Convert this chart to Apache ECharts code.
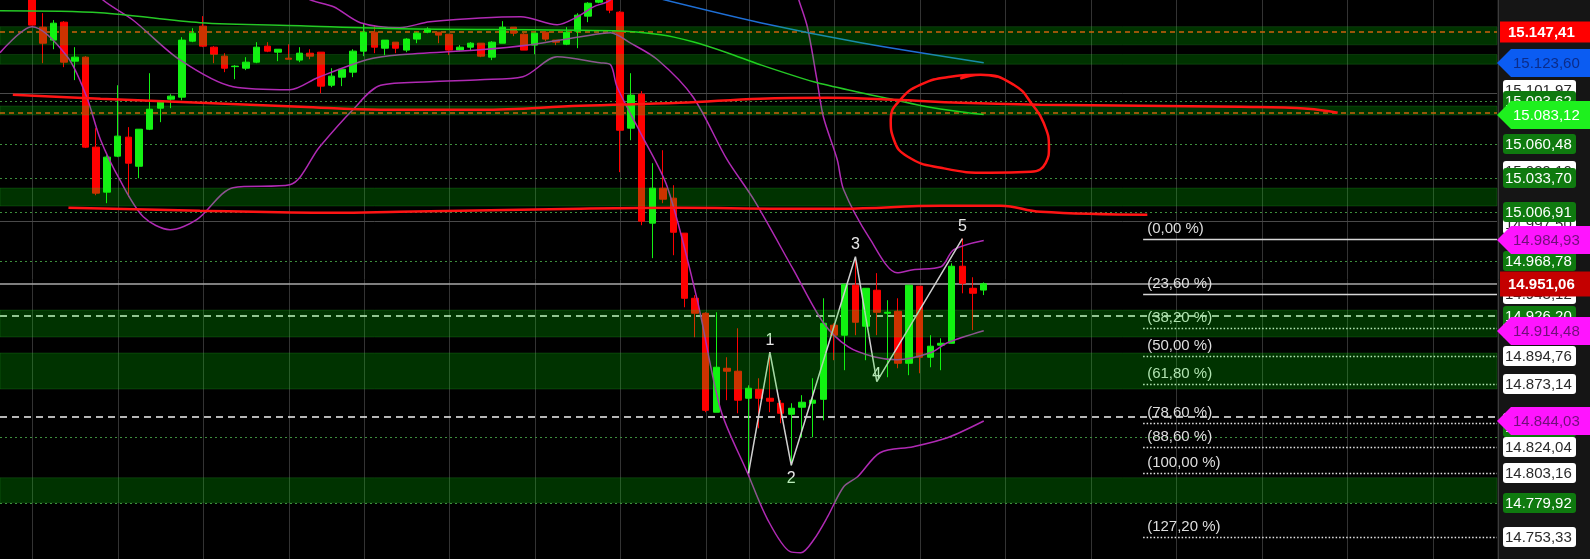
<!DOCTYPE html>
<html><head><meta charset="utf-8">
<script src="https://cdn.jsdelivr.net/npm/echarts@6/dist/echarts.min.js"></script>
<style>html,body{margin:0;padding:0;background:#000;}#c{width:1590px;height:559px;}</style>
</head><body><div id="c"></div>
<script>
// ---------------- DATA ----------------
const X_MAX = 140;               // number of time slots on the axis
const Y_MIN = 14736.4, Y_MAX = 15172.5;
const firstCandleSlot = 3;

const candleOpen = [15180.0,15151.3,15141.2,15155.2,15124.8,15127.9,15057.7,15022.6,15050.7,15065.5,
 15042.8,15071.7,15088.1,15095.1,15096.7,15140.4,15152.1,15135.7,15128.7,15120.5,
 15119.3,15124.0,15136.5,15131.8,15127.1,15125.6,15131.0,15131.8,15106.0,15112.3,
 15116.2,15132.6,15147.4,15134.9,15139.6,15133.4,15142.0,15147.4,15147.4,15145.8,
 15133.4,15135.7,15138.8,15127.9,15138.8,15151.3,15145.8,15137.3,15147.4,15141.2,
 15138.0,15148.2,15159.9,15170.8,15174.7,15163.0,15072.5,15099.0,14998.4,15025.7,
 15017.9,14990.6,14939.8,14928.1,14850.9,14885.2,14882.9,14861.8,14868.8,14861.8,
 14857.9,14849.3,14854.8,14857.9,14861.0,14918.8,14911.0,14950.0,14918.0,14946.1,
 14928.1,14929.7,14889.1,14949.2,14893.8,14903.2,14904.7,14964.8,14947.6,14946.2];
const candleClose = [15152.9,15138.8,15154.4,15124.0,15127.9,15057.7,15021.8,15049.9,15066.3,15045.2,
 15071.7,15087.3,15092.8,15097.5,15141.2,15146.6,15136.5,15130.2,15119.3,15120.9,
 15124.0,15135.7,15132.6,15134.1,15126.3,15131.0,15128.7,15105.3,15113.1,15118.5,
 15132.6,15147.4,15135.7,15141.2,15134.9,15142.0,15146.6,15149.8,15145.1,15133.4,
 15135.7,15138.8,15128.7,15139.6,15151.3,15146.6,15133.4,15146.6,15142.0,15139.6,
 15147.4,15160.7,15170.0,15174.0,15164.6,15070.9,15098.3,14999.9,15025.7,15017.1,
 14991.3,14939.8,14928.1,14852.4,14886.0,14882.9,14860.3,14869.6,14861.8,14859.5,
 14850.1,14854.0,14858.7,14860.3,14920.3,14911.0,14950.8,14921.1,14947.6,14928.9,
 14928.9,14889.1,14950.0,14893.8,14902.4,14904.7,14964.8,14951.5,14943.7,14951.06];
const candleLow = [15152.9,15123.2,15134.1,15120.1,15110.0,15057.0,15020.2,15014.0,15049.9,15018.7,
 15033.5,15071.0,15077.2,15088.1,15094.3,15139.6,15135.7,15123.2,15116.2,15110.7,
 15117.8,15123.2,15131.8,15124.8,15126.3,15124.0,15126.3,15099.8,15104.5,15105.3,
 15112.3,15128.7,15131.0,15129.5,15131.0,15131.8,15138.8,15146.6,15138.8,15129.5,
 15132.6,15133.4,15127.9,15125.6,15138.8,15144.3,15133.4,15130.2,15140.4,15137.3,
 15137.3,15134.9,15155.2,15170.0,15162.2,15038.2,15063.1,14996.8,14971.1,15014.0,
 14973.4,14932.8,14909.4,14850.9,14850.9,14860.3,14850.1,14803.2,14838.4,14850.9,
 14842.3,14809.5,14831.4,14831.4,14844.6,14891.5,14883.7,14911.0,14891.5,14911.0,
 14878.2,14885.2,14879.8,14881.3,14886.0,14883.7,14904.7,14943.7,14914.9,14942.3];
const candleHigh = [15185.0,15162.2,15156.8,15156.0,15135.7,15128.7,15072.5,15051.4,15106.0,15073.3,
 15071.7,15115.4,15093.6,15099.0,15143.5,15150.5,15159.9,15136.5,15131.0,15121.7,
 15127.9,15139.6,15139.6,15134.1,15138.0,15135.7,15134.1,15131.8,15119.3,15119.3,
 15134.1,15154.4,15152.9,15141.2,15139.6,15142.7,15147.4,15151.3,15147.4,15145.8,
 15137.3,15139.6,15138.8,15140.4,15156.0,15151.3,15146.6,15146.6,15148.2,15141.2,
 15151.3,15162.2,15170.8,15176.0,15176.0,15163.8,15115.4,15101.4,15045.2,15055.3,
 15028.0,14990.6,14942.2,14928.9,14928.9,14893.8,14916.4,14871.9,14877.4,14897.7,
 14860.3,14857.9,14864.2,14877.4,14939.8,14920.3,14950.8,14971.8,14947.6,14959.4,
 14938.3,14939.8,14950.0,14949.2,14911.0,14908.6,14967.1,14986.4,14956.2,14952.2];

// Bollinger bands, moving averages: [slot, price]
const bbUpper = [[23.4,15207.8],[27.1,15182.1],[29.0,15172.7],[31.2,15167.2],[33.7,15154.8],[37.4,15150.9],[40.2,15155.5],[48.7,15159.4],[52.1,15153.2],[54.0,15159.4],[55.5,15167.2],[57.1,15172.7],[59.9,15203.9],[65.5,15242.9],[71.1,15235.1],[73.9,15196.1],[74.7,15172.7],[75.5,15151.6],[76.4,15110.3],[77.0,15081.4],[78.3,15047.9],[78.9,15024.5],[81.4,14985.5],[83.9,14959.7],[85.4,14962.1],[88.0,14964.4],[89.2,14977.7],[92,14984.93]];
const bbMiddle = [[7.0,15196.1],[9.6,15172.7],[12.4,15157.1],[16.8,15125.9],[21.8,15104.8],[27.1,15102.5],[29.7,15111.9],[34.3,15125.9],[37.4,15129.8],[44.9,15133.7],[49.6,15137.6],[54.3,15143.8],[57.1,15146.96],[58.9,15139.2],[61.5,15125.9],[64.8,15097.0],[68.0,15047.9],[70.5,15016.7],[74.2,14962.1],[77.0,14920.7],[79.3,14902.0],[81.7,14894.2],[83.9,14891.9],[87.0,14897.3],[88.6,14905.1],[92,14914.48]];
const bbLower = [[0,15131.4],[3,15151.6],[6.3,15128.2],[8.1,15097.0],[9.4,15063.5],[11.2,15032.3],[13.4,15003.4],[15.9,14993.3],[18.4,15001.1],[21.8,15026.1],[27.1,15028.4],[29.9,15058.0],[33.0,15086.9],[35.6,15106.0],[40.2,15108.7],[44.9,15110.3],[48.9,15112.6],[52.1,15128.2],[56.1,15123.5],[57.1,15122.0],[57.7,15104.8],[59.9,15068.9],[62.4,15026.8],[65.2,14938.7],[67.4,14852.9],[69.9,14803.7],[71.8,14767.0],[73.9,14742.1],[74.9,14741.3],[76.1,14751.4],[77.4,14769.4],[78.9,14792.8],[80.2,14800.6],[82.3,14819.3],[85.4,14824.0],[88.6,14831.0],[92,14844.03]];
const maGreen = [[0,15164.1],[9.4,15162.6],[18.7,15154.8],[28.1,15152.4],[37.4,15150.1],[57.4,15148.5],[61.8,15145.4],[64.8,15139.9],[68.0,15131.4],[71.1,15122.0],[76.1,15108.7],[80.5,15100.2],[83.6,15094.7],[86.7,15089.2],[89.8,15085.3],[92,15083.12]];
const maBlue = [[61.3,15175.0],[62.1,15172.7],[71.1,15154.8],[80.5,15139.2],[92,15123.60]];

// hand-drawn red annotations [slot, price]
const redUpper = [[1.2,15098.6],[9.4,15095.5],[18.7,15092.3],[28.1,15089.2],[35.6,15086.9],[44.9,15086.9],[54.3,15090.0],[63.6,15092.3],[71.1,15095.5],[77.4,15096.2],[83.6,15094.7],[89.8,15092.3],[97.3,15090.8],[106.7,15090.0],[116.0,15089.2],[122.3,15087.7],[125.1,15084.5]];
const redLower = [[6.4,15010.4],[18.7,15008.1],[31.2,15006.5],[37.4,15007.3],[54.3,15009.7],[63.6,15010.4],[73.0,15009.7],[78.6,15009.7],[88.0,15012.0],[93.6,15012.0],[97.3,15007.3],[107.3,15005.0]];
const redCircle = [[89.8,15111.1],[91.7,15114.2],[94.8,15106.4],[96.7,15089.2],[97.6,15076.7],[98.1,15058.0],[97.8,15045.5],[96.4,15038.5],[92.6,15037.7],[88.0,15041.6],[84.9,15050.2],[83.6,15063.5],[83.3,15079.1],[84.2,15094.7],[86.1,15106.4],[88.9,15112.6],[91.7,15114.2],[93.3,15112.6]];

// Elliott wave
const waveSlot = [70, 72, 74, 80, 82, 90];
const wavePrice = [14803.16, 14897.7, 14809.5, 14972.2, 14874.7, 14986.36];
const waveLabels = ['', '1', '2', '3', '4', '5'];

// Fibonacci retracement
const fibStartSlot = 107;
const fibLevels = [14986.36, 14943.12, 14916.38, 14894.76, 14873.14, 14842.36, 14824.04, 14803.16, 14753.33];
const fibLabels = ['(0,00 %)', '(23,60 %)', '(38,20 %)', '(50,00 %)', '(61,80 %)', '(78,60 %)', '(88,60 %)', '(100,00 %)', '(127,20 %)'];

// horizontal levels & zones
const bandTop    = [15151.7, 15130.0, 15089.8, 15025.8, 14930.6, 14897.1, 14799.8];
const bandBottom = [15137.5, 15122.4, 15082.8, 15011.8, 14909.6, 14869.0, 14780.3];
const greenDotted = [15093.62, 15060.48, 15033.70, 15006.91, 14968.78, 14831.90, 14779.92];
const grayLevels = [15100.0, 14999.7];
const whiteDashed = [14926.2, 14847.4];
const redDashed = [15147.41, 15084.0];
const lastPrice = 14951.06;
const verticalSlots = [3, 11, 19, 27, 34, 42, 50, 58, 66, 70, 78, 86, 94, 102, 110, 118, 126, 134];

// price tags on the right scale
const whiteTags = [15101.97, 15039.10, 14997.50, 14943.12, 14916.38, 14894.76, 14873.14, 14842.36, 14824.04, 14803.16, 14753.33];
const greenTags = [15093.62, 15060.48, 15033.70, 15006.91, 14968.78, 14926.20, 14839.60, 14779.92];
const redTags = [15147.41];
const blueTags = [15123.60];
const limeTags = [15083.12];
const magentaTags = [14984.93, 14914.48, 14844.03];
const lastTags = [lastPrice];

// ---------------- CHART ----------------
const FONT = '"Liberation Sans", Arial, sans-serif';
function fmt(v) {
  const s = v.toFixed(2).split('.');
  return s[0].replace(/\B(?=(\d{3})+(?!\d))/g, '.') + ',' + s[1];
}
const candles = candleOpen.map((o, i) => [firstCandleSlot + i, o, candleClose[i], candleLow[i], candleHigh[i]]);

function crisp(v, w) { return (w % 2 === 1) ? Math.round(v) + 0.5 : Math.round(v); }

function hLines(levels, style, z, fromSlot) {
  return {
    type: 'custom', coordinateSystem: 'cartesian2d', z: z, silent: true, clip: true,
    data: levels.map(v => [fromSlot || 0, v]), encode: { x: 0, y: 1 },
    renderItem: (p, api) => {
      const a = api.coord([api.value(0), api.value(1)]);
      const b = api.coord([X_MAX, api.value(1)]);
      const y = crisp(a[1], style.lineWidth);
      return { type: 'line', shape: { x1: a[0], y1: y, x2: b[0], y2: y }, style: Object.assign({}, style) };
    }
  };
}

const TAG = {
  white:   { shape: 'box',   bg: '#ffffff', color: '#2a2a2a', weight: 'normal' },
  green:   { shape: 'box',   bg: '#0f7a0f', color: '#ffffff', weight: 'normal' },
  red:     { shape: 'flag',  bg: '#ff0000', color: '#ffffff', weight: 'bold', h: 21 },
  last:    { shape: 'flag',  bg: '#c40000', color: '#ffffff', weight: 'bold', h: 25 },
  blue:    { shape: 'arrow', bg: '#0b5cf2', color: '#0b2c8a', weight: 'normal' },
  lime:    { shape: 'arrow', bg: '#1ef01e', color: '#ffffff', weight: 'normal' },
  magenta: { shape: 'arrow', bg: '#ff14ff', color: '#70107a', weight: 'normal' }
};
function tagSeries(values, kind, z) {
  const st = TAG[kind];
  return {
    type: 'custom', coordinateSystem: 'cartesian2d', z: z, silent: true, clip: false,
    data: values.map(v => [0, v]), encode: { x: 0, y: 1 },
    renderItem: (p, api) => {
      const y = Math.round(api.coord([0, api.value(1)])[1]);
      const ch = [];
      let tx;
      if (st.shape === 'box') {
        ch.push({ type: 'rect', shape: { x: 1503, y: y - 10, width: 73, height: 20, r: 3 }, style: { fill: st.bg } });
        tx = 1505;
      } else if (st.shape === 'arrow') {
        ch.push({ type: 'polygon', shape: { points: [[1497, y], [1511, y - 14], [1590, y - 14], [1590, y + 14], [1511, y + 14]] }, style: { fill: st.bg } });
        tx = 1513;
      } else {
        ch.push({ type: 'rect', shape: { x: 1500, y: y - st.h / 2, width: 90, height: st.h }, style: { fill: st.bg } });
        tx = 1508;
      }
      ch.push({ type: 'text', x: tx, y: y + 1, style: { text: fmt(api.value(1)), fill: st.color, font: st.weight + ' 15px ' + FONT, align: 'left', verticalAlign: 'middle' } });
      return { type: 'group', children: ch };
    }
  };
}

function lineSeries(data, color, width, z, smooth) {
  return { type: 'line', data: data, showSymbol: false, symbol: 'none', smooth: smooth, z: z, silent: true,
    lineStyle: { color: color, width: width }, animation: false };
}

const chart = echarts.init(document.getElementById('c'), null, { renderer: 'canvas' });
const option = {
  animation: false,
  backgroundColor: '#000000',
  grid: { left: 0, right: 93, top: 0, bottom: 0 },
  xAxis: { type: 'value', min: 0, max: X_MAX, show: false },
  yAxis: { type: 'value', min: Y_MIN, max: Y_MAX, show: false, scale: true },
  graphic: [
    { type: 'rect', shape: { x: 1497, y: 0, width: 93, height: 559 }, style: { fill: '#151515' }, z: 0, silent: true },
    { type: 'line', shape: { x1: 1498.5, y1: 0, x2: 1498.5, y2: 559 }, style: { stroke: '#3c3c3c', lineWidth: 1 }, z: 0, silent: true }
  ],
  series: [
    // vertical grid
    {
      type: 'custom', coordinateSystem: 'cartesian2d', z: 1, silent: true,
      data: verticalSlots.map(s => [s, Y_MIN]), encode: { x: 0, y: 1 },
      renderItem: (p, api) => {
        const a = api.coord([api.value(0), Y_MIN]);
        const b = api.coord([api.value(0), Y_MAX]);
        const x = Math.round(a[0]) + 0.5;
        return { type: 'line', shape: { x1: x, y1: a[1], x2: x, y2: b[1] }, style: { stroke: '#333333', lineWidth: 1 } };
      }
    },
    hLines(grayLevels, { stroke: '#4a4a4a', lineWidth: 1 }, 1),
    hLines(greenDotted, { stroke: '#3d8f3d', lineWidth: 1, lineDash: [2, 3] }, 1),
    hLines(redDashed, { stroke: '#ff3a10', lineWidth: 1.5, lineDash: [5, 4] }, 1),
    hLines(whiteDashed, { stroke: '#f2f2f2', lineWidth: 1.5, lineDash: [7, 5] }, 1),
    hLines([lastPrice], { stroke: '#a8a8a8', lineWidth: 1.5 }, 2),
    // candles
    {
      type: 'candlestick', data: candles, encode: { x: 0, y: [1, 2, 3, 4] }, barWidth: 7, z: 3, silent: true,
      itemStyle: { color: '#14f014', color0: '#ff0000', borderColor: '#14f014', borderColor0: '#ff0000', borderWidth: 1 }
    },
    // indicators
    lineSeries(bbUpper, '#b02ab4', 1.5, 4, 0.3),
    lineSeries(bbMiddle, '#b02ab4', 1.5, 4, 0.3),
    lineSeries(bbLower, '#b02ab4', 1.5, 4, 0.3),
    lineSeries(maGreen, '#25c825', 1.5, 4, 0.3),
    lineSeries(maBlue, '#1e6fd6', 1.5, 4, 0.3),
    // Elliott wave
    lineSeries(waveSlot.map((s, i) => [s, wavePrice[i]]), '#d0d0d0', 1.5, 4, false),
    {
      type: 'custom', coordinateSystem: 'cartesian2d', z: 4, silent: true,
      data: waveSlot.map((s, i) => [s, wavePrice[i], i]), encode: { x: 0, y: 1 },
      renderItem: (p, api) => {
        const i = api.value(2);
        const dy = [0, -12, 13, -12, -7, -12][i];
        const c = api.coord([api.value(0), api.value(1)]);
        return { type: 'text', x: c[0], y: c[1] + dy, style: { text: waveLabels[i], fill: '#e8e8e8', font: '16px ' + FONT, align: 'center', verticalAlign: 'middle' } };
      }
    },
    // Fibonacci
    {
      type: 'custom', coordinateSystem: 'cartesian2d', z: 4, silent: true,
      data: fibLevels.map((v, i) => [fibStartSlot, v, i]), encode: { x: 0, y: 1 },
      renderItem: (p, api) => {
        const i = api.value(2);
        const a = api.coord([api.value(0), api.value(1)]);
        const b = api.coord([X_MAX, api.value(1)]);
        const y = Math.round(a[1]) + 0.5;
        const ls = i < 2 ? { stroke: '#d6d6d6', lineWidth: 1.5 } : { stroke: '#e6e6e6', lineWidth: 1.5, lineDash: [1.5, 2] };
        return { type: 'group', children: [
          { type: 'line', shape: { x1: a[0] - 1, y1: y, x2: b[0], y2: y }, style: ls },
          { type: 'text', x: a[0] + 3, y: y - 11, style: { text: fibLabels[i], fill: '#dedede', font: '15px ' + FONT, align: 'left', verticalAlign: 'middle' } }
        ] };
      }
    },
    // translucent green zones (drawn over everything in the plot)
    {
      type: 'custom', coordinateSystem: 'cartesian2d', z: 6, silent: true,
      data: bandTop.map((t, i) => [0, t, bandBottom[i]]), encode: { x: 0, y: [1, 2] },
      renderItem: (p, api) => {
        const a = api.coord([0, api.value(1)]);
        const b = api.coord([X_MAX, api.value(2)]);
        return { type: 'rect', shape: { x: a[0], y: a[1], width: b[0] - a[0], height: b[1] - a[1] },
          style: { fill: 'rgba(0,255,0,0.2)', stroke: 'rgba(60,200,60,0.18)', lineWidth: 1 } };
      }
    },
    // hand-drawn annotations
    lineSeries(redUpper, '#ff1414', 2.5, 7, 0.4),
    lineSeries(redLower, '#ff1414', 2.5, 7, 0.4),
    lineSeries(redCircle, '#ff1414', 2.5, 7, 0.5),
    // price scale tags
    tagSeries(whiteTags, 'white', 10),
    tagSeries(greenTags, 'green', 11),
    tagSeries(redTags, 'red', 12),
    tagSeries(blueTags, 'blue', 12),
    tagSeries(limeTags, 'lime', 12),
    tagSeries(magentaTags, 'magenta', 12),
    tagSeries(lastTags, 'last', 13)
  ]
};
chart.setOption(option);
</script></body></html>
